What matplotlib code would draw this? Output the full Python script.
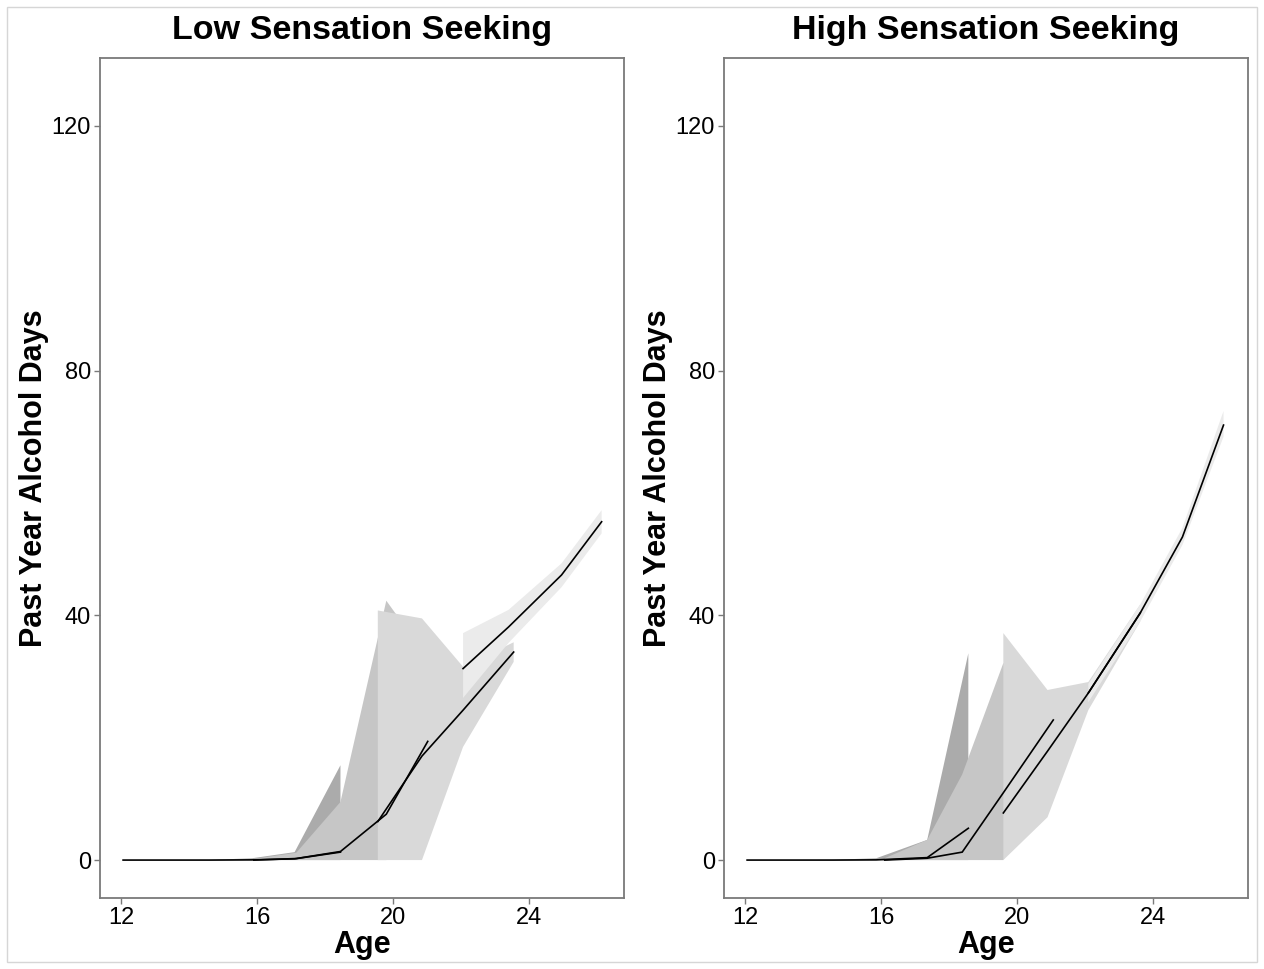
import matplotlib
matplotlib.use("Agg")
import matplotlib.pyplot as plt
from matplotlib.patches import Rectangle

plt.rcParams['font.family'] = ['Liberation Sans', 'DejaVu Sans']

# ---------------- data ----------------
panel_titles = ["Low Sensation Seeking", "High Sensation Seeking"]
x_ticks = [12, 16, 20, 24]
y_ticks = [0, 40, 80, 120]
x_label = "Age"
y_label = "Past Year Alcohol Days"

# Low sensation seeking: four cohorts (age, mean, lower CI, upper CI)
low_age_c1 = [12.05, 13.3, 14.6, 15.85, 17.1, 18.45]
low_mean_c1 = [0, 0, 0, 0.03, 0.2, 1.3]
low_lo_c1 = [0, 0, 0, 0, 0, 0]
low_hi_c1 = [0, 0, 0.02, 0.3, 1.3, 15.5]

low_age_c2 = [15.9, 17.15, 18.45, 19.8, 21.02]
low_mean_c2 = [0, 0.25, 1.4, 7.5, 19.4]
low_lo_c2 = [0, 0, 0, 0, 6]
low_hi_c2 = [0.2, 1.2, 9.5, 42.4, 33]

low_age_c3 = [19.55, 20.85, 22.06, 23.55]
low_mean_c3 = [6.3, 17.0, 24.5, 34.0]
low_lo_c3 = [0, 0, 18.5, 32.4]
low_hi_c3 = [40.8, 39.5, 31.6, 35.6]

low_age_c4 = [22.06, 23.4, 24.96, 26.14]
low_mean_c4 = [31.3, 38.1, 46.6, 55.3]
low_lo_c4 = [26.5, 35.5, 44.6, 53.4]
low_hi_c4 = [37.1, 40.9, 48.5, 57.2]

# High sensation seeking
high_age_c1 = [12.05, 13.3, 14.6, 15.85, 17.35, 18.56]
high_mean_c1 = [0, 0, 0, 0.03, 0.4, 5.2]
high_lo_c1 = [0, 0, 0, 0, 0, 0]
high_hi_c1 = [0, 0, 0.05, 0.3, 3.3, 33.8]

high_age_c2 = [16.1, 17.35, 18.38, 19.59, 21.06]
high_mean_c2 = [0, 0.3, 1.3, 11.0, 22.9]
high_lo_c2 = [0, 0, 0, 0, 14]
high_hi_c2 = [0.3, 3.3, 14, 32.2, 25]

high_age_c3 = [19.59, 20.89, 22.09, 23.62]
high_mean_c3 = [7.7, 17.8, 27.3, 40.4]
high_lo_c3 = [0, 7.0, 24.5, 39.0]
high_hi_c3 = [37.1, 27.8, 29.1, 41.8]

high_age_c4 = [22.09, 23.62, 24.86, 26.07]
high_mean_c4 = [27.3, 40.4, 52.8, 71.1]
high_lo_c4 = [25.8, 39.0, 51.5, 69.2]
high_hi_c4 = [28.8, 41.8, 54.3, 73.4]

cohort_fills = ["#ababab", "#c6c6c6", "#d9d9d9", "#ebebeb"]

panels = [
    [(low_age_c1, low_mean_c1, low_lo_c1, low_hi_c1),
     (low_age_c2, low_mean_c2, low_lo_c2, low_hi_c2),
     (low_age_c3, low_mean_c3, low_lo_c3, low_hi_c3),
     (low_age_c4, low_mean_c4, low_lo_c4, low_hi_c4)],
    [(high_age_c1, high_mean_c1, high_lo_c1, high_hi_c1),
     (high_age_c2, high_mean_c2, high_lo_c2, high_hi_c2),
     (high_age_c3, high_mean_c3, high_lo_c3, high_hi_c3),
     (high_age_c4, high_mean_c4, high_lo_c4, high_hi_c4)],
]

# ---------------- figure ----------------
W, H = 1264, 969
fig = plt.figure(figsize=(W / 100, H / 100), dpi=100)
fig.patch.set_facecolor("white")

# outer light frame
fig.add_artist(Rectangle((7 / W, 1 - 962 / H), (1257 - 7) / W, (962 - 7) / H,
                         transform=fig.transFigure, fill=False,
                         edgecolor="#d6d6d6", linewidth=1.0))

axes_px = [(100, 623.7), (724, 1248)]
top_px, bot_px = 58, 898
border_col = "#7a7a7a"

for i, (x0, x1) in enumerate(axes_px):
    ax = fig.add_axes([x0 / W, 1 - bot_px / H, (x1 - x0) / W, (bot_px - top_px) / H])
    ax.set_xlim(11.37, 26.79)
    ax.set_ylim(-6.2, 131.1)
    for (age, mean, lo, hi), col in zip(panels[i], cohort_fills):
        ax.fill_between(age, lo, hi, facecolor=col, edgecolor="none", linewidth=0)
    for (age, mean, lo, hi) in panels[i]:
        ax.plot(age, mean, color="black", linewidth=1.2, solid_joinstyle="miter")
    ax.set_xticks(x_ticks)
    ax.set_yticks(y_ticks)
    ax.set_xticklabels([str(t) for t in x_ticks])
    ax.set_yticklabels([str(t) for t in y_ticks])
    ax.tick_params(direction="out", length=4, width=1, color=border_col,
                   labelsize=17, labelcolor="black", pad=2.5)
    for sp in ax.spines.values():
        sp.set_color(border_col)
        sp.set_linewidth(1.3)
    cx = (x0 + x1) / 2
    fig.text(cx / W, 1 - 31 / H, panel_titles[i], ha="center", va="center",
             fontsize=24.5, fontweight="bold")
    fig.text(cx / W, 1 - 945 / H, x_label, ha="center", va="center",
             fontsize=22, fontweight="bold")
    fig.text((x0 - 66) / W, 1 - 478 / H, y_label, ha="center", va="center",
             rotation=90, fontsize=22, fontweight="bold")

fig.savefig("out.png", dpi=100, facecolor="white")
